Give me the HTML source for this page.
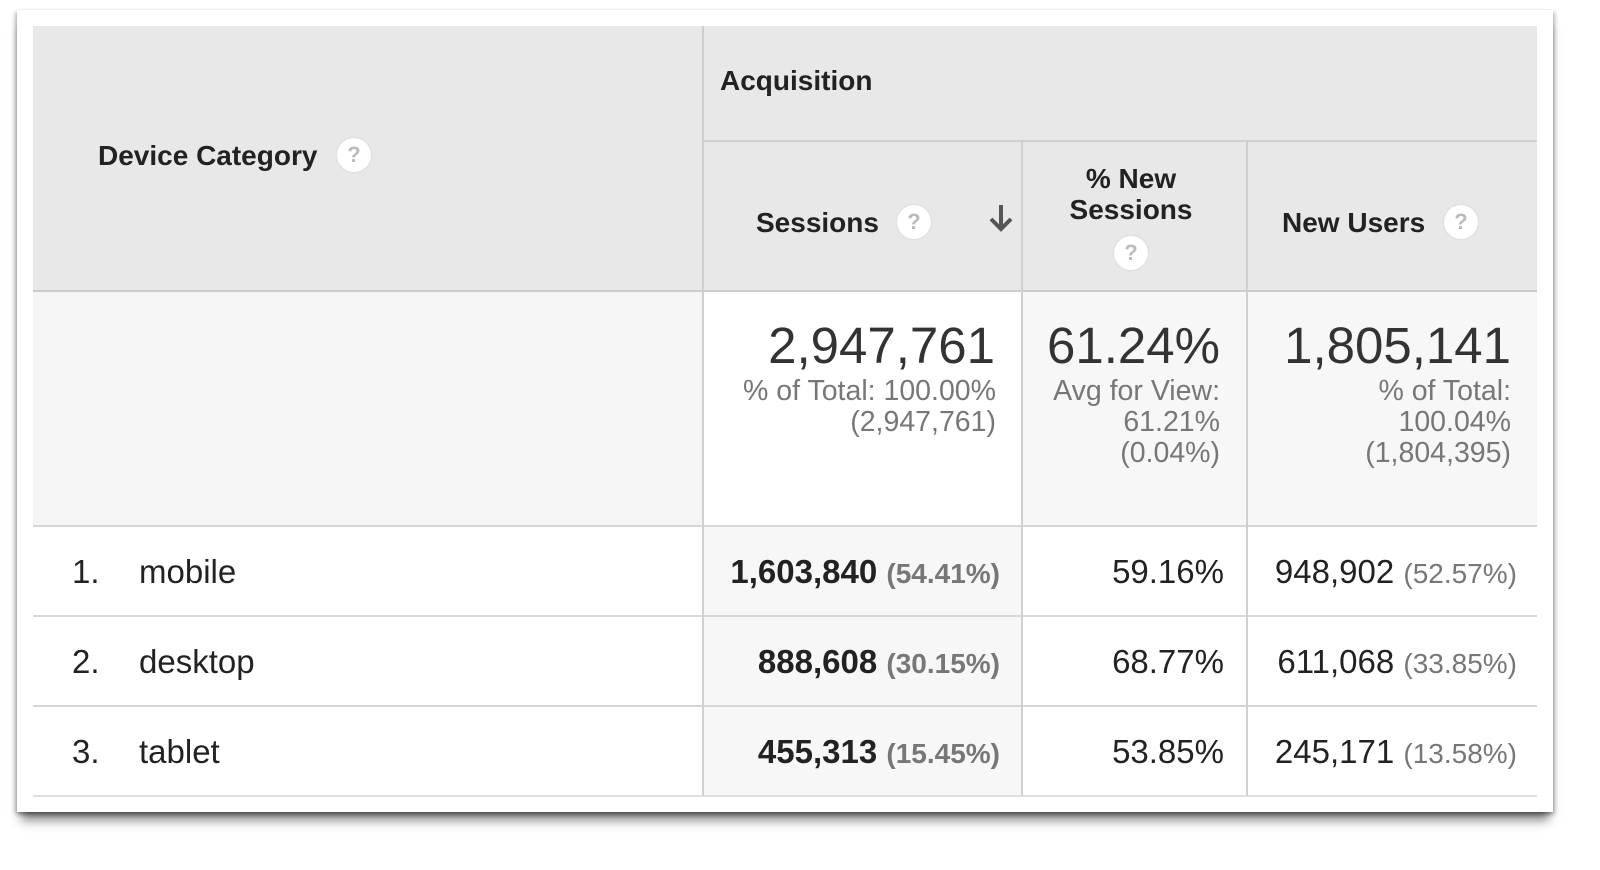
<!DOCTYPE html>
<html><head><style>
*{margin:0;padding:0;box-sizing:border-box}
body{width:1600px;height:870px;background:#fff;position:relative;overflow:hidden;font-family:"Liberation Sans",Arial,sans-serif;color:#222}
.card{position:absolute;left:17px;top:10px;width:1536px;height:802px;background:#fff;box-shadow:0 12px 10px -4px rgba(0,0,0,0.5),-2px 2px 4px rgba(0,0,0,0.25),2px 2px 4px rgba(0,0,0,0.25)}
.a{position:absolute;white-space:nowrap}
.hb{font-weight:bold;font-size:28px;color:#222}
.q{position:absolute;width:34px;height:34px;border-radius:50%;background:#fff;box-shadow:0 0 2px #ccc;color:#bbb;font-size:22px;text-align:center;line-height:34px;font-weight:bold}
.vl{position:absolute;width:2px;background:#d0d0d0}
.hl{position:absolute;height:2px;background:#d6d6d6}
.r{text-align:right}
.g{color:#777}
.big{font-size:51px;color:#333}
.sub{font-size:28.5px;line-height:31px}
.row{font-size:33px}
.p{font-size:28px;color:#777}
</style></head><body>
<div class="card"></div>
<div class="a" style="left:33px;top:26px;width:1504px;height:265px;background:#e8e8e8"></div>
<div class="a" style="left:33px;top:291px;width:670px;height:235px;background:#f5f5f5"></div>
<div class="a" style="left:703px;top:291px;width:319px;height:235px;background:#fff"></div>
<div class="a" style="left:1022px;top:291px;width:515px;height:235px;background:#f7f7f7"></div>
<div class="a" style="left:703px;top:526px;width:319px;height:270px;background:#f7f7f7"></div>
<div class="hl" style="left:703px;top:140px;width:834px;background:#d0d0d0"></div>
<div class="hl" style="left:33px;top:290px;width:1504px;background:#ccc"></div>
<div class="hl" style="left:33px;top:525px;width:1504px"></div>
<div class="hl" style="left:33px;top:615px;width:1504px"></div>
<div class="hl" style="left:33px;top:705px;width:1504px"></div>
<div class="hl" style="left:33px;top:795px;width:1504px;background:#e0e0e0"></div>
<div class="vl" style="left:702px;top:26px;height:770px"></div>
<div class="vl" style="left:1021px;top:141px;height:655px"></div>
<div class="vl" style="left:1246px;top:141px;height:655px"></div>
<div class="a hb" style="left:98px;top:140px">Device Category</div>
<div class="q" style="left:337px;top:138px">?</div>
<div class="a hb" style="left:720px;top:65px">Acquisition</div>
<div class="a hb" style="left:756px;top:207px">Sessions</div>
<div class="q" style="left:897px;top:205px">?</div>
<svg class="a" style="left:987px;top:203px" width="28" height="30"><path d="M14 2 V26 M4 16 L14 26 L24 16" stroke="#555" stroke-width="4" fill="none"/></svg>
<div class="a hb" style="left:1022px;top:163px;width:218px;text-align:center;line-height:31px">% New<br>Sessions</div>
<div class="q" style="left:1114px;top:236px">?</div>
<div class="a hb" style="left:1282px;top:207px">New Users</div>
<div class="q" style="left:1444px;top:205px">?</div>
<div class="a r big" style="left:703px;width:292px;top:316px">2,947,761</div>
<div class="a r g sub" style="left:703px;width:293px;top:376px">% of Total: 100.00%<br>(2,947,761)</div>
<div class="a r big" style="left:1022px;width:198px;top:316px">61.24%</div>
<div class="a r g sub" style="left:1022px;width:198px;top:376px">Avg for View:<br>61.21%<br>(0.04%)</div>
<div class="a r big" style="left:1247px;width:264px;top:316px">1,805,141</div>
<div class="a r g sub" style="left:1247px;width:264px;top:376px">% of Total:<br>100.04%<br>(1,804,395)</div>
<div class="a row" style="left:72px;top:553px">1.</div><div class="a row" style="left:139px;top:553px">mobile</div>
<div class="a row" style="left:72px;top:643px">2.</div><div class="a row" style="left:139px;top:643px">desktop</div>
<div class="a row" style="left:72px;top:733px">3.</div><div class="a row" style="left:139px;top:733px">tablet</div>
<div class="a r row" style="left:703px;width:297px;top:553px"><b>1,603,840</b> <b class="p">(54.41%)</b></div>
<div class="a r row" style="left:703px;width:297px;top:643px"><b>888,608</b> <b class="p">(30.15%)</b></div>
<div class="a r row" style="left:703px;width:297px;top:733px"><b>455,313</b> <b class="p">(15.45%)</b></div>
<div class="a r row" style="left:1022px;width:202px;top:553px">59.16%</div>
<div class="a r row" style="left:1022px;width:202px;top:643px">68.77%</div>
<div class="a r row" style="left:1022px;width:202px;top:733px">53.85%</div>
<div class="a r row" style="left:1247px;width:270px;top:553px">948,902 <span class="p">(52.57%)</span></div>
<div class="a r row" style="left:1247px;width:270px;top:643px">611,068 <span class="p">(33.85%)</span></div>
<div class="a r row" style="left:1247px;width:270px;top:733px">245,171 <span class="p">(13.58%)</span></div>
</body></html>
